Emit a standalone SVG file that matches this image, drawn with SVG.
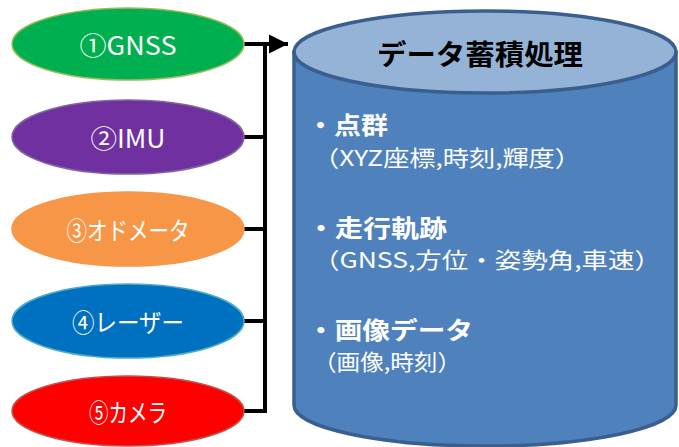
<svg xmlns="http://www.w3.org/2000/svg" width="679" height="447" viewBox="0 0 679 447">
<style>
.lbl{font-family:"Noto Sans CJK JP","Liberation Sans",sans-serif;font-size:25px;fill:#fff;text-anchor:middle;dominant-baseline:central}
.h{font-family:"Noto Sans CJK JP","Liberation Sans",sans-serif;font-size:24px;font-weight:bold;fill:#fff}
.b{font-family:"Noto Sans CJK JP","Liberation Sans",sans-serif;font-size:22px;fill:#fff}
.conn{stroke:#000;stroke-width:4;fill:none}
</style>
<defs>
<marker id="arr" viewBox="0 0 10 10" refX="10" refY="5" markerWidth="4.8" markerHeight="4.8" markerUnits="strokeWidth" orient="auto">
<path d="M0,0 L10,5 L0,10 Z" fill="#000"/>
</marker>
</defs>
<g id="connectors">
<path class="conn" d="M244,44 H288" marker-end="url(#arr)"/>
<path class="conn" d="M265,44 V413"/>
<path class="conn" d="M244,137 H265 M244,229 H265 M244,321 H265 M244,411 H265"/>
</g>
<g id="n1"><ellipse cx="128" cy="44" rx="116" ry="36" fill="#00B050" stroke="#9BBB59" stroke-width="1.5"/><text class="lbl" x="128" y="44" textLength="97" lengthAdjust="spacingAndGlyphs">①GNSS</text></g>
<g id="n2"><ellipse cx="128" cy="137" rx="116" ry="37" fill="#7030A0" stroke="#8064A2" stroke-width="1.5"/><text class="lbl" x="128" y="137" textLength="75" lengthAdjust="spacingAndGlyphs">②IMU</text></g>
<g id="n3"><ellipse cx="128" cy="229" rx="116" ry="37" fill="#F79646" stroke="#F79646" stroke-width="1.5"/><text class="lbl" x="128" y="229" textLength="123" lengthAdjust="spacingAndGlyphs">③オドメータ</text></g>
<g id="n4"><ellipse cx="128" cy="321" rx="116" ry="37" fill="#0070C0" stroke="#4BACC6" stroke-width="1.5"/><text class="lbl" x="128" y="321" textLength="112" lengthAdjust="spacingAndGlyphs">④レーザー</text></g>
<g id="n5"><ellipse cx="128" cy="411" rx="116" ry="35" fill="#FF0000" stroke="#C0504D" stroke-width="1.5"/><text class="lbl" x="128" y="411" textLength="78" lengthAdjust="spacingAndGlyphs">⑤カメラ</text></g>
<g id="db">
<path d="M294,52 V405 A191,41 0 0 0 676,405 V52 Z" fill="#4F81BD" stroke="#3A5F8E" stroke-width="3.5"/>
<ellipse cx="485" cy="52" rx="191" ry="41" fill="#95B3D7" stroke="#3A5F8E" stroke-width="3.5"/>
<text x="377" y="65" textLength="206" lengthAdjust="spacingAndGlyphs" font-family="'Noto Sans CJK JP','Liberation Sans',sans-serif" font-size="28" font-weight="bold" fill="#000">データ蓄積処理</text>
<text class="h" x="307" y="134" textLength="81" lengthAdjust="spacingAndGlyphs">・点群</text>
<text class="b" x="313" y="166" textLength="268" lengthAdjust="spacingAndGlyphs">（XYZ座標,時刻,輝度）</text>
<text class="h" x="307" y="237" textLength="140" lengthAdjust="spacingAndGlyphs">・走行軌跡</text>
<text class="b" x="313" y="268" textLength="348" lengthAdjust="spacingAndGlyphs">（GNSS,方位・姿勢角,車速）</text>
<text class="h" x="307" y="339" textLength="166" lengthAdjust="spacingAndGlyphs">・画像データ</text>
<text class="b" x="313" y="370" textLength="148" lengthAdjust="spacingAndGlyphs">（画像,時刻）</text>
</g>
</svg>
